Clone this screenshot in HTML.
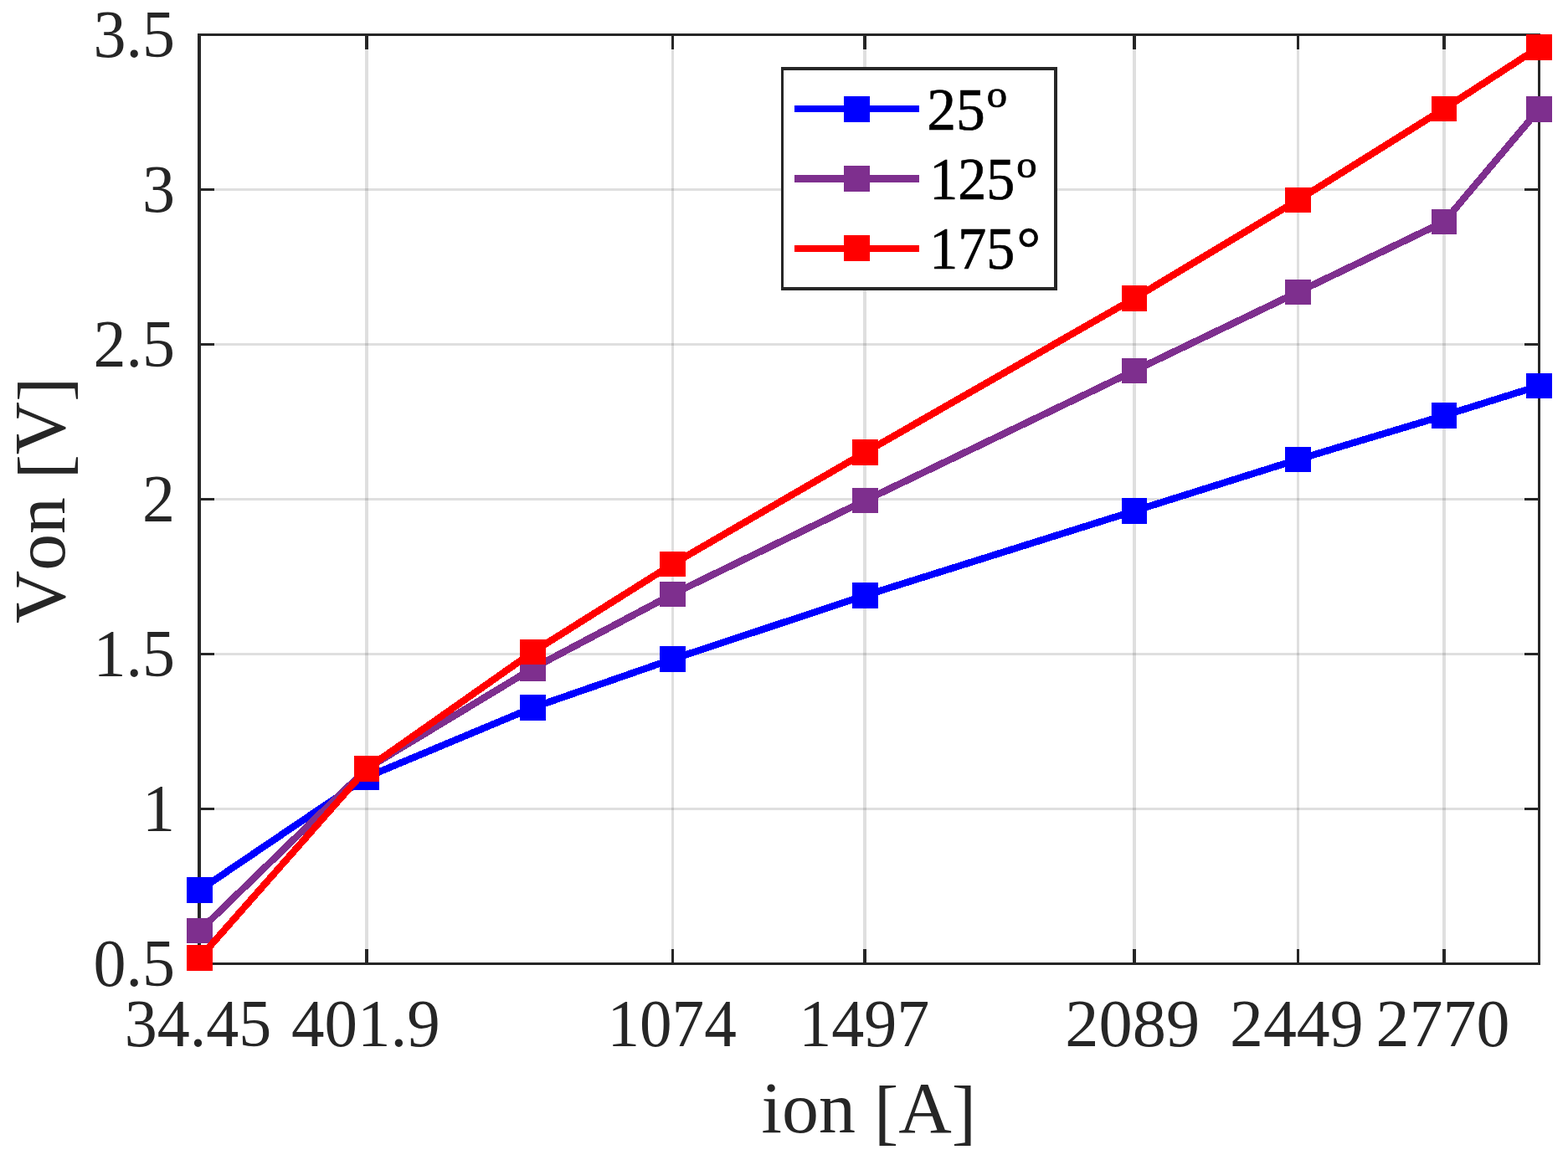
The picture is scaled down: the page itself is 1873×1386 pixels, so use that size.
<!DOCTYPE html>
<html lang="en"><head><meta charset="utf-8"><title>Von vs ion</title>
<style>html,body{margin:0;padding:0;background:#fff}body{width:1873px;height:1386px;overflow:hidden}svg{display:block}text{font-family:"Liberation Serif",serif;font-kerning:none;font-variant-ligatures:none}.t{font-size:79.2px;fill:#262626}.l{font-size:87.5px;fill:#262626}.g{font-size:71.25px;fill:#000}.s{font-size:45.5px}</style></head><body>
<svg width="1873" height="1386" viewBox="0 0 1873 1386">
<rect width="1873" height="1386" fill="#fff"/>
<g fill="#262626" fill-opacity="0.15" shape-rendering="crispEdges">
<rect x="436" y="43" width="4" height="1107"/>
<rect x="802" y="43" width="3" height="1107"/>
<rect x="1031" y="43" width="4" height="1107"/>
<rect x="1353" y="43" width="4" height="1107"/>
<rect x="1549" y="43" width="3" height="1107"/>
<rect x="1723" y="43" width="4" height="1107"/>
<rect x="240" y="225" width="1597" height="3"/>
<rect x="240" y="410" width="1597" height="3"/>
<rect x="240" y="595" width="1597" height="3"/>
<rect x="240" y="780" width="1597" height="3"/>
<rect x="240" y="965" width="1597" height="3"/>
</g>
<g fill="#262626" shape-rendering="crispEdges">
<rect x="236" y="40" width="4" height="1113"/>
<rect x="1837" y="40" width="3" height="1113"/>
<rect x="236" y="40" width="1604" height="3"/>
<rect x="236" y="1150" width="1604" height="3"/>
<rect x="436" y="40" width="4" height="19"/>
<rect x="436" y="1134" width="4" height="19"/>
<rect x="802" y="40" width="3" height="19"/>
<rect x="802" y="1134" width="3" height="19"/>
<rect x="1031" y="40" width="4" height="19"/>
<rect x="1031" y="1134" width="4" height="19"/>
<rect x="1353" y="40" width="4" height="19"/>
<rect x="1353" y="1134" width="4" height="19"/>
<rect x="1549" y="40" width="3" height="19"/>
<rect x="1549" y="1134" width="3" height="19"/>
<rect x="1723" y="40" width="4" height="19"/>
<rect x="1723" y="1134" width="4" height="19"/>
<rect x="236" y="225" width="20" height="3"/>
<rect x="1821" y="225" width="19" height="3"/>
<rect x="236" y="410" width="20" height="3"/>
<rect x="1821" y="410" width="19" height="3"/>
<rect x="236" y="595" width="20" height="3"/>
<rect x="1821" y="595" width="19" height="3"/>
<rect x="236" y="780" width="20" height="3"/>
<rect x="1821" y="780" width="19" height="3"/>
<rect x="236" y="965" width="20" height="3"/>
<rect x="1821" y="965" width="19" height="3"/>
</g>
<text class="t" text-anchor="middle" transform="translate(236.6 1249.9) scale(0.985 1.015)">34.45</text>
<text class="t" text-anchor="middle" transform="translate(436.9 1249.9) scale(0.998 1.015)">401.9</text>
<text class="t" text-anchor="middle" transform="translate(802.6 1249.9) scale(0.975 1.015)">1074</text>
<text class="t" text-anchor="middle" transform="translate(1032.2 1249.9) scale(0.985 1.015)">1497</text>
<text class="t" text-anchor="middle" transform="translate(1352.7 1249.9) scale(1.015 1.015)">2089</text>
<text class="t" text-anchor="middle" transform="translate(1548.8 1249.9) scale(1.008 1.015)">2449</text>
<text class="t" text-anchor="middle" transform="translate(1723.5 1249.9) scale(1.01 1.015)">2770</text>
<text class="t" text-anchor="end" transform="translate(209 67.9) scale(0.985 1.015)">3.5</text>
<text class="t" text-anchor="end" transform="translate(209 252.9) scale(0.985 1.015)">3</text>
<text class="t" text-anchor="end" transform="translate(209 437.9) scale(0.985 1.015)">2.5</text>
<text class="t" text-anchor="end" transform="translate(209 622.9) scale(0.985 1.015)">2</text>
<text class="t" text-anchor="end" transform="translate(209 807.9) scale(0.985 1.015)">1.5</text>
<text class="t" text-anchor="end" transform="translate(209 992.9) scale(0.985 1.015)">1</text>
<text class="t" text-anchor="end" transform="translate(209 1177.9) scale(0.985 1.015)">0.5</text>
<text class="l" transform="translate(909.6 1352.9) scale(1.005 1)">ion <tspan dy="4.2">[</tspan><tspan dy="-4.2">A</tspan><tspan dy="4.2">]</tspan></text>
<text class="l" transform="translate(76.6 744.9) rotate(-90)">Von <tspan dy="4.2">[</tspan><tspan dy="-4.2">V</tspan><tspan dy="4.2">]</tspan></text>
<g shape-rendering="crispEdges">
<polyline points="238.5,1063.5 438,928.5 636.5,845.5 803.5,787.5 1033.5,711.5 1355,610.5 1550.5,549 1725,496.5 1838.5,461" fill="none" stroke="#0000ff" stroke-width="8.33" stroke-linejoin="miter"/>
<g fill="#0000ff">
<rect x="223" y="1048" width="31" height="31"/>
<rect x="423" y="913" width="30" height="31"/>
<rect x="621" y="830" width="31" height="31"/>
<rect x="788" y="772" width="31" height="31"/>
<rect x="1018" y="696" width="31" height="31"/>
<rect x="1340" y="595" width="30" height="31"/>
<rect x="1535" y="534" width="31" height="30"/>
<rect x="1710" y="481" width="30" height="31"/>
<rect x="1823" y="446" width="31" height="30"/>
</g></g>
<g shape-rendering="crispEdges">
<polyline points="238.5,1112 438,918.5 636.5,798.5 803.5,710 1033.5,598 1355,443 1550.5,349 1725,265 1838.5,130.5" fill="none" stroke="#7e2f8e" stroke-width="8.33" stroke-linejoin="miter"/>
<g fill="#7e2f8e">
<rect x="223" y="1097" width="31" height="30"/>
<rect x="423" y="903" width="30" height="31"/>
<rect x="621" y="783" width="31" height="31"/>
<rect x="788" y="695" width="31" height="30"/>
<rect x="1018" y="583" width="31" height="30"/>
<rect x="1340" y="428" width="30" height="30"/>
<rect x="1535" y="334" width="31" height="30"/>
<rect x="1710" y="250" width="30" height="30"/>
<rect x="1823" y="115" width="31" height="31"/>
</g></g>
<g shape-rendering="crispEdges">
<polyline points="238.5,1144.5 438,918.5 636.5,779 803.5,674 1033.5,540.5 1355,356.5 1550.5,239 1725,130 1838.5,56.5" fill="none" stroke="#ff0000" stroke-width="8.33" stroke-linejoin="miter"/>
<g fill="#ff0000">
<rect x="223" y="1129" width="31" height="31"/>
<rect x="423" y="903" width="30" height="31"/>
<rect x="621" y="764" width="31" height="30"/>
<rect x="788" y="659" width="31" height="30"/>
<rect x="1018" y="525" width="31" height="31"/>
<rect x="1340" y="341" width="30" height="31"/>
<rect x="1535" y="224" width="31" height="30"/>
<rect x="1710" y="115" width="30" height="30"/>
<rect x="1823" y="41" width="31" height="31"/>
</g></g>
<g shape-rendering="crispEdges">
<rect x="933" y="80" width="330" height="267" fill="#262626"/>
<rect x="936" y="84" width="323" height="259" fill="#fff"/>
<rect x="949" y="126" width="149" height="8" fill="#0000ff"/>
<rect x="1008" y="115" width="31" height="31" fill="#0000ff"/>
<rect x="949" y="209" width="149" height="9" fill="#7e2f8e"/>
<rect x="1008" y="198" width="31" height="31" fill="#7e2f8e"/>
<rect x="949" y="293" width="149" height="8" fill="#ff0000"/>
<rect x="1008" y="281" width="31" height="31" fill="#ff0000"/>
</g>
<text class="g" stroke="#000" stroke-width="0.7" x="1107.2" y="154.9"><tspan textLength="69.4688" lengthAdjust="spacingAndGlyphs">25</tspan><tspan class="s" x="1178.7" y="128.3" textLength="24.3425" lengthAdjust="spacingAndGlyphs">o</tspan></text>
<text class="g" stroke="#000" stroke-width="0.7" x="1110.3" y="237.8"><tspan textLength="101.852" lengthAdjust="spacingAndGlyphs">125</tspan><tspan class="s" x="1214.3" y="211.7" textLength="24.3425" lengthAdjust="spacingAndGlyphs">o</tspan></text>
<text class="g" stroke="#000" stroke-width="0.7" x="1110.3" y="320.7"><tspan textLength="101.852" lengthAdjust="spacingAndGlyphs">175</tspan><tspan x="1214.6" y="320.7">°</tspan></text>
</svg></body></html>
